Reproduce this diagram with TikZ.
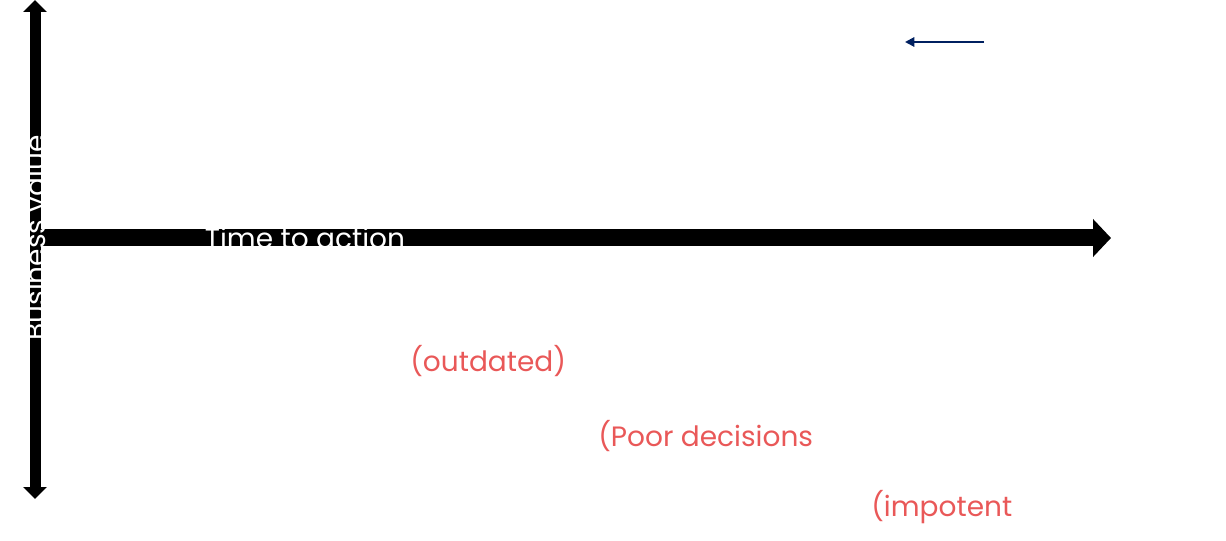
\documentclass[tikz,border=0pt]{standalone}
\usepackage{fontspec}
\setmainfont{Poppins}
\usepackage{xcolor}
\usepackage{tikz}
\usetikzlibrary{arrows.meta}
\definecolor{lossred}{RGB}{233,88,88}
\definecolor{navy}{RGB}{0,32,96}
\tikzset{
  axis/.style={line width=#1, draw=black},
  axislabel/.style={text=white, font=\fontsize{21}{24}\selectfont, inner sep=0pt},
  loss/.style={text=lossred, font=\fontsize{21}{24}\selectfont, anchor=west, inner sep=0pt}
}
\begin{document}
\begin{tikzpicture}[x=0.75pt, y=-0.75pt]
\useasboundingbox (0,0) rectangle (1226,541);
\coordinate (vtop) at (35,0);
\coordinate (vbot) at (35,499);
\coordinate (hstart) at (41,238);
\coordinate (hend) at (1111,238);
\draw[axis=8.25pt, {Triangle[width=17.25pt,length=9pt]}-{Triangle[width=17.25pt,length=9pt]}] (vtop) -- (vbot);
\draw[axis=12.75pt, -{Triangle[width=27.75pt,length=13.5pt]}] (hstart) -- (hend);
\node[axislabel] (time) at (305,238) {Time to action};
\node[axislabel, rotate=90] (value) at (35,238) {Business value};
\coordinate (ntail) at (984,42);
\coordinate (nhead) at (905,42);
\draw[navy, line width=1.5pt, -{Triangle[width=7pt,length=7pt]}] (ntail) -- (nhead);
\node[loss] (outdated) at (410,361) {(outdated)};
\node[loss] (poor) at (598,436) {(Poor decisions};
\node[loss] (impotent) at (871,507) {(impotent};
\end{tikzpicture}
\end{document}
